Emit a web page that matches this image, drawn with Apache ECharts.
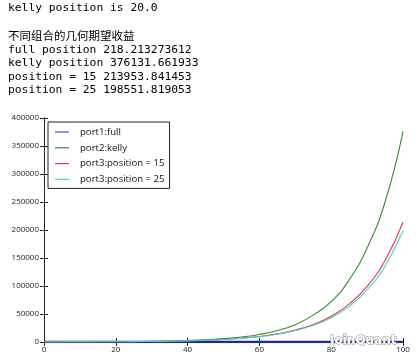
<!DOCTYPE html>
<html><head><meta charset="utf-8">
<script src="https://cdn.jsdelivr.net/npm/echarts@6/dist/echarts.min.js"></script>
<style>html,body{margin:0;padding:0;background:#fff}#c{width:419px;height:363px}</style>
</head><body><div id="c"></div>
<script>
var headerLines = [
  'kelly position is 20.0',
  '',
  '不同组合的几何期望收益',
  'full position 218.213273612',
  'kelly position 376131.661933',
  'position = 15 213953.841453',
  'position = 25 198551.819053'
];
var seriesNames = ['port1:full', 'port2:kelly', 'port3:position = 15', 'port3:position = 25'];
var xs = [0,5,10,15,20,25,30,35,40,45,50,55,60,65,70,75,80,85,90,95,100];
var fullVals  = [100,104,108,112,117,121,126,131,136,142,147,153,159,165,172,178,185,193,201,209,218];
var kellyVals = [100,150,230,340,510,780,1170,1760,2650,4000,6000,9000,13500,20500,31000,48000,72000,111000,168000,250000,376132];
var pos15Vals = [100,147,216,317,465,680,1000,1460,2150,3150,4620,6780,9950,14600,21400,31400,46100,67700,99300,145700,213954];
var pos25Vals = [100,147,215,315,460,670,980,1430,2090,3060,4470,6530,9550,13950,20400,29800,43500,63600,93000,135900,198552];
var xTicks = [0,20,40,60,80,100];
var yTicks = [0,50000,100000,150000,200000,250000,300000,350000,400000];

function pairs(v){ return xs.map(function(x,i){ return [x, v[i]]; }); }
var colors = ['#3a55d0', '#3a8a30', '#e8383f', '#52cfc2'];
var vals = [fullVals, kellyVals, pos15Vals, pos25Vals];

var chart = echarts.init(document.getElementById('c'), null, {renderer:'canvas'});
var lineY = [10, 0, 37, 52, 65, 79, 92];
var graphics = [];
headerLines.forEach(function(t, i){
  if(!t) return;
  graphics.push({type:'text', left: 8, top: lineY[i]-7, style:{text:t, fill:'#000',
    font: (i===2 ? '11.5px "Noto Sans CJK SC"' : '11.3px "DejaVu Sans Mono"')}});
});
graphics.push({type:'text', right: 22, bottom: 16, z: 100, style:{text:'JoinQuant', fill:'#fff', stroke:'#888', lineWidth:1, font:'bold 12px "DejaVu Sans"'}});

var axisLineStyle = {lineStyle:{color:'#222', width:1}};
var option = {
  animation:false,
  color: colors,
  graphic: graphics,
  grid:{left:44, right:16, top:118, bottom:21, show:false},
  legend:{
    data: seriesNames, orient:'vertical', left:48, top:122,
    borderColor:'#222', borderWidth:1, padding:[4,5,3,7],
    itemWidth:14, itemHeight:1.2, icon:'rect', itemGap:3.8,
    textStyle:{fontFamily:'Open Sans', fontSize:9.6, color:'#111', lineHeight:12, padding:[0,0,0,6]}
  },
  xAxis:[{
    type:'value', min:0, max:100, interval:20, position:'bottom',
    axisLine:axisLineStyle, axisTick:{inside:true, length:4, lineStyle:{color:'#222'}},
    axisLabel:{fontSize:8, color:'#222', margin:4, fontFamily:'Open Sans',
      formatter:function(v){ return xTicks.indexOf(v)>=0 ? String(v) : ''; }},
    splitLine:{show:false}
  },{
    type:'value', min:0, max:100, interval:20, position:'top',
    axisLine:axisLineStyle, axisTick:{inside:true, length:4, lineStyle:{color:'#222'}},
    axisLabel:{show:false}, splitLine:{show:false}
  }],
  yAxis:[{
    type:'value', min:0, max:400000, interval:50000, position:'left',
    axisLine:{show:true, lineStyle:{color:'#222', width:1}}, axisTick:{show:true, inside:true, length:4, lineStyle:{color:'#222'}},
    axisLabel:{fontSize:8, color:'#222', margin:5, fontFamily:'Open Sans',
      formatter:function(v){ return yTicks.indexOf(v)>=0 ? String(v) : ''; }},
    splitLine:{show:false}
  },{
    type:'value', min:0, max:400000, interval:50000, position:'right',
    axisLine:{show:true, lineStyle:{color:'#222', width:1}}, axisTick:{show:true, inside:true, length:4, lineStyle:{color:'#222'}},
    axisLabel:{show:false}, splitLine:{show:false}
  }],
  series: seriesNames.map(function(n, i){
    return {name:n, type:'line', data:pairs(vals[i]), showSymbol:false, symbol:'none',
      smooth:0.5, z: 3+i,
      lineStyle:{width: i===0 ? 2.5 : 1.1, color: i===0 ? '#1c2f90' : colors[i]},
      itemStyle:{color: colors[i]}};
  })
};
chart.setOption(option);
</script>
</body></html>
